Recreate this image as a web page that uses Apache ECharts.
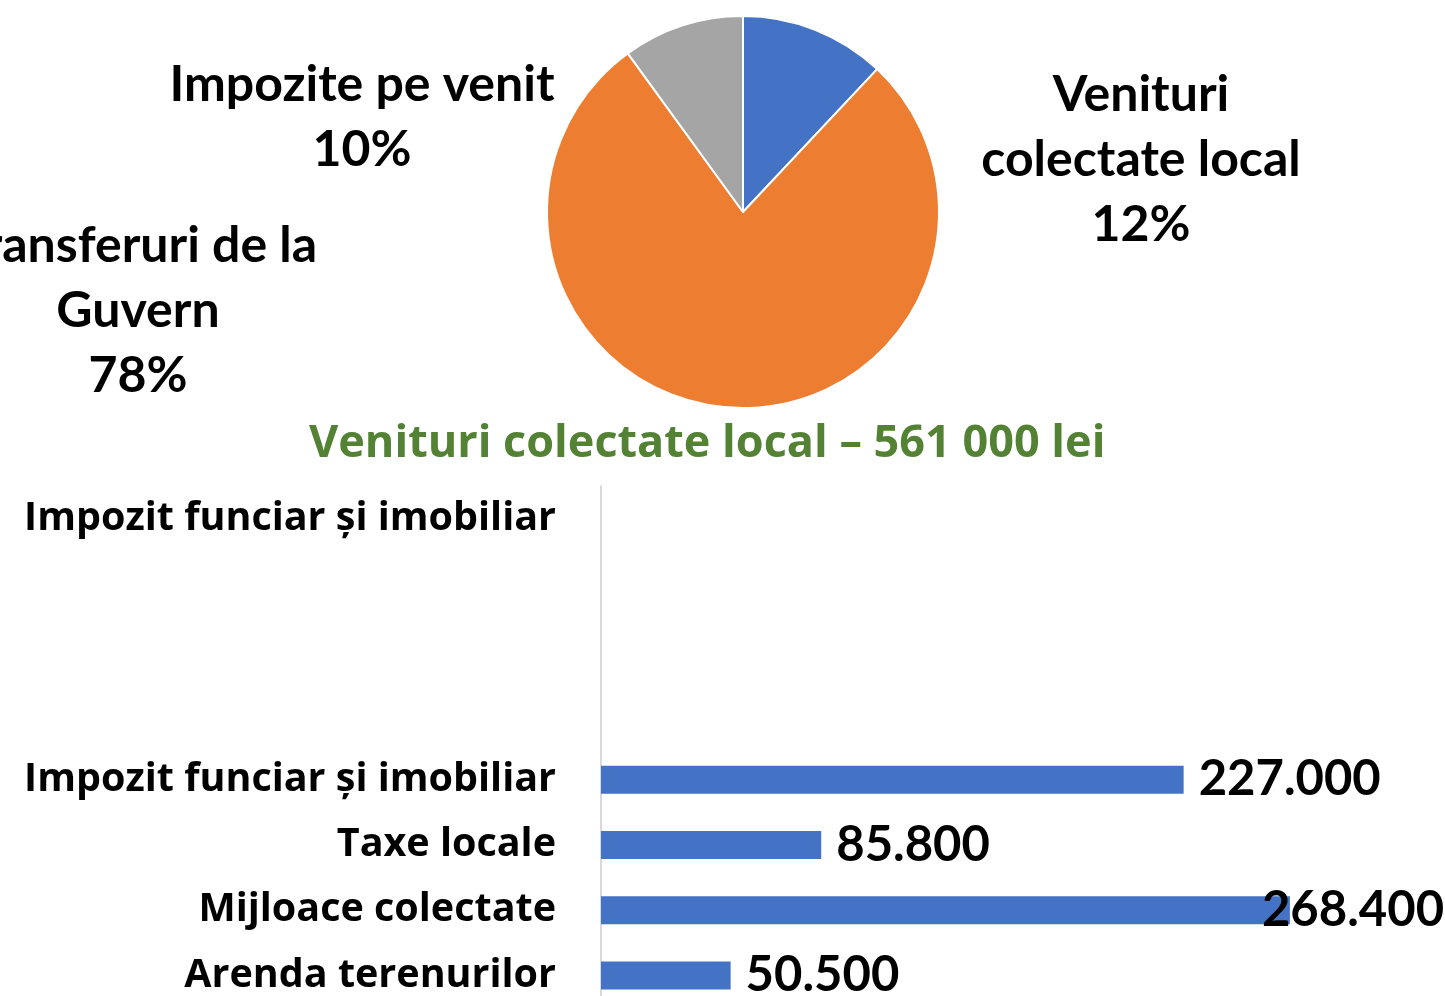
<!DOCTYPE html>
<html>
<head>
<meta charset="utf-8">
<script src="https://cdn.jsdelivr.net/npm/echarts@6/dist/echarts.min.js"></script>
<style>
html,body{margin:0;padding:0;background:#fff;}
#chart{width:1445px;height:996px;}
</style>
</head>
<body>
<div id="chart"></div>
<script>
// ---- data ----
const pieNames = ["Venituri\ncolectate local", "Transferuri de la\nGuvern", "Impozite pe venit"];
const pieValues = [12, 78, 10];
const pieColors = ["#4472C4", "#ED7D31", "#A5A5A5"];

const titleText = "Venituri colectate local – 561 000 lei";

const barCategories = ["Impozit funciar și imobiliar", "", "", "", "Impozit funciar și imobiliar", "Taxe locale", "Mijloace colectate", "Arenda terenurilor"];
const barValues = [null, null, null, null, 227000, 85800, 268400, 50500];

// ---- chart ----
const chart = echarts.init(document.getElementById('chart'), null, {renderer: 'canvas'});

const pieLabelPos = [
  {x: 1141, y: 160},
  {x: 138, y: 311},
  {x: 362, y: 117}
];

function fmtThousands(v) {
  return String(v).replace(/\B(?=(\d{3})+(?!\d))/g, '.');
}

const option = {
  animation: false,
  backgroundColor: '#ffffff',
  title: {
    text: titleText,
    left: 304,
    top: 417,
    textStyle: {fontFamily: 'Open Sans', fontWeight: 'bold', fontSize: 45, color: '#548235'}
  },
  grid: {left: 601, top: 486, width: 770, height: 522, containLabel: false, outerBoundsMode: 'none'},
  xAxis: {
    type: 'value', min: 0, max: 300000,
    axisLine: {show: false}, axisTick: {show: false}, axisLabel: {show: false}, splitLine: {show: false}
  },
  yAxis: {
    type: 'category', inverse: true,
    data: barCategories,
    axisLine: {show: true, lineStyle: {color: '#D9D9D9', width: 2}},
    axisTick: {show: false},
    axisLabel: {margin: 45, fontFamily: 'Open Sans', fontWeight: 'bold', fontSize: 39.5, color: '#000', interval: 0}
  },
  series: [
    {
      type: 'pie',
      center: [743, 212],
      radius: 196,
      startAngle: 90,
      clockwise: true,
      data: pieNames.map((n, i) => ({name: n, value: pieValues[i], itemStyle: {color: pieColors[i]}})),
      itemStyle: {borderColor: '#fff', borderWidth: 2},
      label: {
        show: true, position: 'outside',
        formatter: p => p.name + '\n' + Math.round(p.percent) + '%',
        fontFamily: 'Lato', fontWeight: 'bold', fontSize: 50, lineHeight: 65, color: '#000', align: 'center'
      },
      labelLine: {show: false},
      labelLayout: function (params) {
        const p = pieLabelPos[params.dataIndex];
        return {x: p.x, y: p.y, align: 'center', verticalAlign: 'middle'};
      }
    },
    {
      type: 'bar',
      barWidth: 28,
      data: barValues.map((v, i) => (i === 6 ? {value: v, label: {offset: [-43, 0]}} : v)),
      itemStyle: {color: '#4472C4'},
      label: {
        show: true, position: 'right', distance: 15,
        formatter: p => fmtThousands(p.value),
        fontFamily: 'Lato', fontWeight: 'bold', fontSize: 49, color: '#000'
      }
    }
  ]
};
chart.setOption(option);
</script>
</body>
</html>
